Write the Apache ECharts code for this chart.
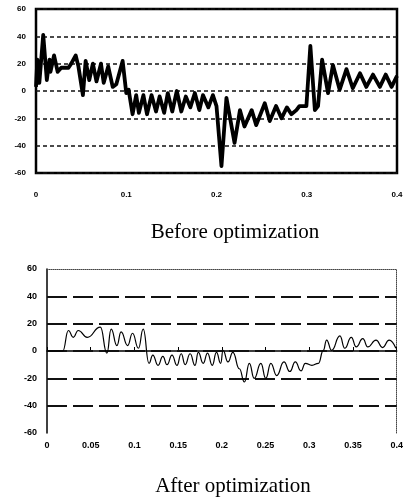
<!DOCTYPE html>
<html><head><meta charset="utf-8">
<script src="https://cdn.jsdelivr.net/npm/echarts@6/dist/echarts.min.js"></script>
<style>html,body{margin:0;padding:0;background:#fff}#c{width:406px;height:499px}</style>
</head><body><div id="c"></div>
<script>
// Before optimization (time s, value)
var beforeX = [0,0.0015,0.0037,0.008,0.012,0.015,0.016,0.020,0.024,0.028,0.036,0.039,0.044,0.047,0.052,0.055,0.059,0.063,0.067,0.072,0.075,0.080,0.085,0.089,0.096,0.100,0.1026,0.107,0.111,0.114,0.119,0.123,0.128,0.133,0.137,0.142,0.146,0.151,0.156,0.161,0.166,0.171,0.176,0.181,0.185,0.191,0.196,0.200,0.202,0.2055,0.211,0.220,0.226,0.231,0.239,0.244,0.2535,0.259,0.266,0.272,0.278,0.283,0.2885,0.292,0.2996,0.304,0.309,0.3125,0.317,0.3236,0.329,0.3365,0.344,0.351,0.359,0.366,0.3734,0.381,0.3875,0.394,0.400];
var beforeY = [3,23,6,41,8,23,14,26,14,17,17,20,26,18,-3,22,8,20,7,20,6,18,3,5,22,-1.5,1,-17,-3,-16,-3,-17,-3,-15,-4,-16,-1.5,-15,0,-15,-4,-12,-1.5,-14,-3,-12,-3,-11,-11,-55,-5,-38,-14,-26,-14,-25,-9,-22,-11,-20,-12,-17,-14,-11,-11,33,-14,-11,23,-1.5,19,1,16,2,13,3,12,3,12,3,11];
// After optimization
var afterX = [0,0.018,0.0245,0.030,0.0357,0.046,0.061,0.0685,0.0734,0.080,0.0847,0.0922,0.0978,0.1046,0.110,0.1167,0.121,0.127,0.1325,0.1373,0.143,0.1486,0.1535,0.158,0.1637,0.1693,0.173,0.1787,0.1836,0.189,0.1938,0.1987,0.2013,0.207,0.2126,0.220,0.2258,0.2314,0.237,0.2446,0.2502,0.256,0.2627,0.271,0.2777,0.284,0.2905,0.2954,0.303,0.3104,0.316,0.3198,0.3255,0.335,0.3405,0.348,0.3537,0.3612,0.3669,0.3763,0.3838,0.3913,0.399];
var afterY = [0,0,15,10,15,10,17.5,-1.5,16,4,14,4,13,2,16,-9,-3,-10.5,-4,-10,-3,-10.5,-2,-10,-2,-10.5,-1,-9,-1.5,-10.5,-1,-9,0.5,-8,-1,-13,-22.7,-9,-20,-9,-20,-9,-18,-8,-15,-8,-14.6,-9,-10.5,-9,0.5,8,0.5,11,2,10,3,9,3,8,2.5,8,2];
var afterGridValues = [-40,-20,0,20,40];
var titles = ['Before optimization','After optimization'];

function pairs(xs, ys){ var r=[]; for(var i=0;i<xs.length;i++) r.push([xs[i], ys[i]]); return r; }

var lblTop = {fontFamily:'Liberation Sans', fontSize:8, fontWeight:'bold', color:'#000'};
var lblBot = {fontFamily:'Liberation Sans', fontSize:9, fontWeight:'bold', color:'#000'};

var chart = echarts.init(document.getElementById('c'), null, {renderer:'canvas'});
chart.setOption({
  animation:false,
  backgroundColor:'#fff',
  title:[
    {text:titles[0], left:230, top:217, textAlign:'center', textStyle:{fontFamily:'Liberation Serif', fontSize:21, fontWeight:'normal', color:'#000'}},
    {text:titles[1], left:228, top:471, textAlign:'center', textStyle:{fontFamily:'Liberation Serif', fontSize:21, fontWeight:'normal', color:'#000'}}
  ],
  grid:[
    {left:36, right:9, top:9, height:164, show:true, borderColor:'#000', borderWidth:2.5, containLabel:false},
    {left:47, right:5, top:269, height:164, show:false, containLabel:false}
  ],
  xAxis:[
    {type:'value', gridIndex:0, min:0, max:0.4, interval:0.1,
     axisLine:{show:false}, axisTick:{show:false}, splitLine:{show:false},
     axisLabel:Object.assign({margin:18, formatter:function(v){return v===0?'0':String(+v.toFixed(2));}}, lblTop)},
    {type:'value', gridIndex:1, min:0, max:0.4, interval:0.05,
     axisLine:{show:true, lineStyle:{color:'#000', width:1.5}},
     axisTick:{show:true, inside:true, length:4, lineStyle:{color:'#000'}},
     splitLine:{show:false},
     axisLabel:Object.assign({margin:8, formatter:function(v){return v===0?'0':String(+v.toFixed(2));}}, lblBot)},
    {type:'value', gridIndex:1, position:'top', min:0, max:0.4,
     axisLine:{show:true, onZero:false, lineStyle:{color:'#444', width:1, type:'dotted'}},
     axisTick:{show:false}, axisLabel:{show:false}, splitLine:{show:false}}
  ],
  yAxis:[
    {type:'value', gridIndex:0, min:-60, max:60, interval:20,
     axisLine:{show:false}, axisTick:{show:false},
     splitLine:{show:true, lineStyle:{color:'#111', width:1.5, type:[4,3]}},
     axisLabel:Object.assign({margin:10}, lblTop)},
    {type:'value', gridIndex:1, min:-60, max:60, interval:20,
     axisLine:{show:true, onZero:false, lineStyle:{color:'#000', width:1.5}},
     axisTick:{show:false}, splitLine:{show:false},
     axisLabel:Object.assign({margin:10}, lblBot)},
    {type:'value', gridIndex:1, position:'right', min:-60, max:60,
     axisLine:{show:true, onZero:false, lineStyle:{color:'#444', width:1, type:'dotted'}},
     axisTick:{show:false}, axisLabel:{show:false}, splitLine:{show:false}}
  ],
  series:[
    {type:'line', xAxisIndex:0, yAxisIndex:0, data:pairs(beforeX, beforeY), showSymbol:false,
     lineStyle:{color:'#000', width:3.8, join:'round'}, z:5},
    {type:'line', xAxisIndex:1, yAxisIndex:1, data:pairs(afterX, afterY), showSymbol:false,
     smooth:0.5, smoothMonotone:'x', lineStyle:{color:'#000', width:1.2}, z:5,
     markLine:{silent:true, symbol:'none', label:{show:false},
       lineStyle:{color:'#111', width:2, type:[20,6]},
       data:afterGridValues.map(function(v){return {yAxis:v};})}}
  ]
});
</script></body></html>
